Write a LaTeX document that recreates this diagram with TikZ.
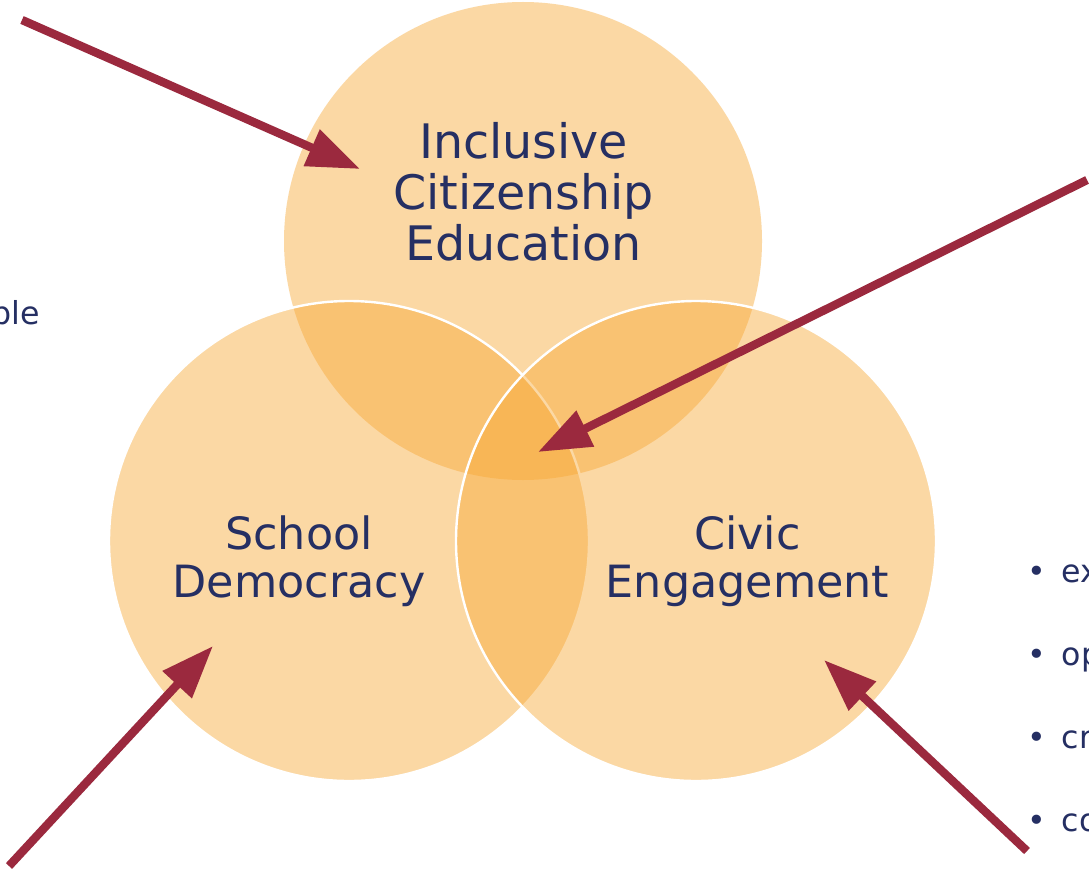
\documentclass[tikz,border=0pt]{standalone}
\usepackage{fontspec}
\setmainfont{DejaVu Sans}
\usetikzlibrary{arrows.meta}
\definecolor{venn}{RGB}{248,169,54}
\definecolor{navy}{RGB}{37,47,99}
\definecolor{wine}{RGB}{155,41,62}
\tikzstyle{petal}=[fill=venn, fill opacity=.45]
\tikzstyle{rim}=[draw=white, line width=.06cm]
\tikzstyle{pointer}=[draw=wine, line width=.21cm, -{Triangle[length=1.32cm,width=.95cm]}]
\tikzstyle{bigtext}=[text=navy, align=center, inner sep=0, font=\fontsize{33.8}{36.3}\selectfont]
\tikzstyle{midtext}=[text=navy, align=center, inner sep=0, font=\fontsize{31.6}{34.1}\selectfont]
\tikzstyle{sidetext}=[text=navy, inner sep=0, font=\fontsize{22.5}{26}\selectfont]

\begin{document}
\begin{tikzpicture}[x=.025cm, y=-.025cm]
 \useasboundingbox[fill=white] (0,0) rectangle (1089,873);
%
 \coordinate (ice) at (523,241);
 \coordinate (sd) at (349,541);
 \coordinate (ce) at (696,541);
 \fill[petal] (ice) circle [radius=239];
 \draw[petal, rim] (sd) circle [radius=240];
 \draw[petal, rim] (ce) circle [radius=240];
%
 \node[bigtext] (icetext) at (523.5,192) {Inclusive\\Citizenship\\Education};
 \node[midtext] (sdtext) at (299,561) {School\\Democracy};
 \node[midtext] (cetext) at (747.5,561) {Civic\\Engagement};
%
 \node[sidetext, anchor=base east] (ple) at (40,324) {ple};
 \foreach \w [count=\i] in {ex,op,cr,co}
  \node[sidetext, anchor=base west] (item\i) at (1027,{499+83*\i}) {•\hspace{.4cm}\w};
%
 \coordinate (from1) at (22,20);
 \coordinate (to1) at (360,169);
 \coordinate (from2) at (1087,180);
 \coordinate (to2) at (538,452);
 \coordinate (from3) at (9,866);
 \coordinate (to3) at (213,646);
 \coordinate (from4) at (1027,851);
 \coordinate (to4) at (824,660);
 \draw[pointer] (from1) -- (to1);
 \draw[pointer] (from2) -- (to2);
 \draw[pointer] (from3) -- (to3);
 \draw[pointer] (from4) -- (to4);
\end{tikzpicture}
\end{document}
